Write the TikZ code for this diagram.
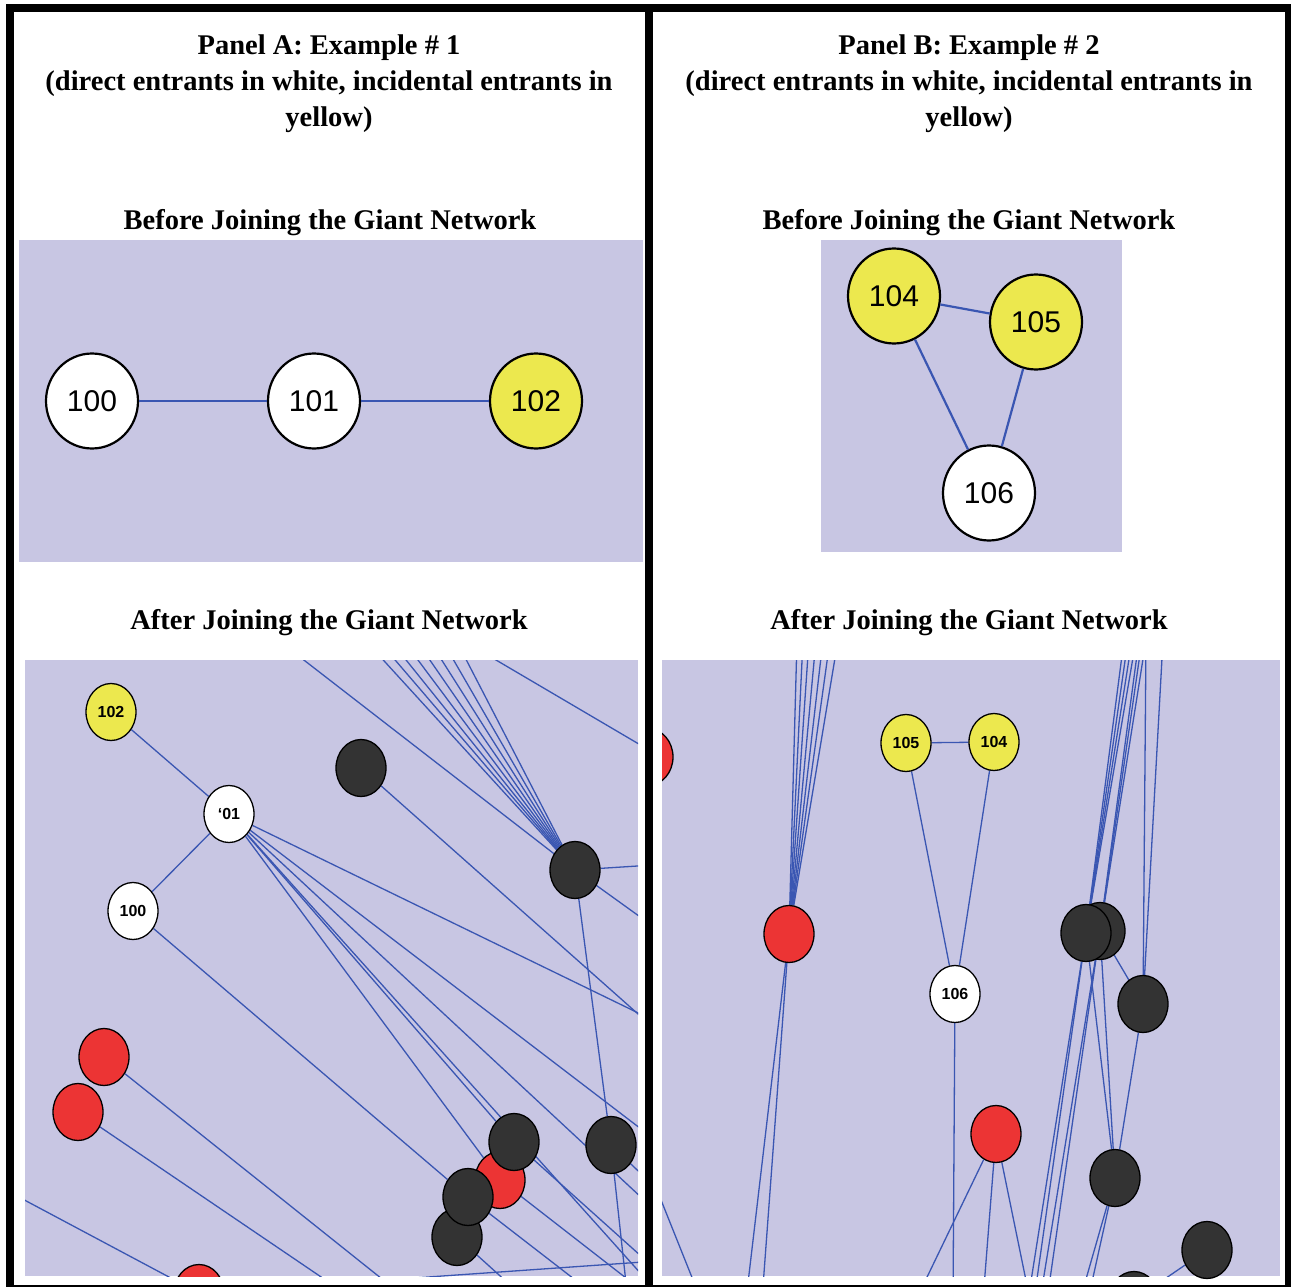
\documentclass[tikz,border=0pt]{standalone}
\usepackage{fontspec}
\setmainfont{Liberation Serif}
\newfontfamily\labelfont{Liberation Sans}
\usepackage{xcolor}
\usetikzlibrary{shapes.geometric, backgrounds}

\definecolor{panelbg}{HTML}{C8C6E3}
\definecolor{linkblue}{HTML}{3A56B2}
\definecolor{entyellow}{HTML}{ECE84E}
\definecolor{entred}{HTML}{EC3434}
\definecolor{firmdark}{HTML}{333333}

\begin{document}
\begin{tikzpicture}[x=1pt, y=-1pt,
    heading/.style={font=\fontsize{28.5}{36}\selectfont\bfseries, align=center},
    bigfirm/.style={ellipse, draw=black, line width=2.2pt, minimum width=92pt, minimum height=95pt, inner sep=0pt, font=\labelfont\fontsize{30}{30}\selectfont},
    firm/.style={ellipse, draw=black, line width=1.3pt, minimum width=50pt, minimum height=57pt, inner sep=0pt, font=\labelfont\fontsize{16}{16}\selectfont\bfseries},
    hub/.style={firm, fill=firmdark},
    link/.style={draw=linkblue, line width=1.3pt},
    biglink/.style={draw=linkblue, line width=2.2pt}]
    \useasboundingbox (0,0) rectangle (1291,1287);
    \begin{scope}[on background layer]
        \fill[white]   (0,0) rectangle (1291,1287);
        \fill[panelbg] (19,240) rectangle (643,562);
        \fill[panelbg] (821,240) rectangle (1122,552);
        \fill[panelbg] (25,660) rectangle (638,1276);
        \fill[panelbg] (662,660) rectangle (1280,1276);
    \end{scope}
    \draw[line width=8pt] (10,8) rectangle (1289,1289);
    \draw[line width=8pt] (649,8) -- (649,1289);

    \node[heading] (tita) at (329,84) {Panel A: Example \# 1\\(direct entrants in white, incidental entrants in\\yellow)};
    \node[heading] (titb) at (969,84) {Panel B: Example \# 2\\(direct entrants in white, incidental entrants in\\yellow)};
    \node[heading] (befa) at (330,223) {Before Joining the Giant Network};
    \node[heading] (befb) at (969,223) {Before Joining the Giant Network};
    \node[heading] (afta) at (329,623) {After Joining the Giant Network};
    \node[heading] (aftb) at (969,623) {After Joining the Giant Network};

    \node[bigfirm, fill=white]     (n100) at (92,401)  {100};
    \node[bigfirm, fill=white]     (n101) at (314,401) {101};
    \node[bigfirm, fill=entyellow] (n102) at (536,401) {102};
    \draw[biglink] (n100) -- (n101) -- (n102);

    \node[bigfirm, fill=entyellow] (n104) at (894,296)  {104};
    \node[bigfirm, fill=entyellow] (n105) at (1036,322) {105};
    \node[bigfirm, fill=white]     (n106) at (989,493)  {106};
    \draw[biglink] (n104) -- (n105) -- (n106) -- (n104);

    \node[firm, fill=entyellow] (m102) at (111,712) {102};
    \node[firm, fill=white]     (m101) at (229,814) {‘01};
    \node[firm, fill=white]     (m100) at (133,911) {100};
    \node[hub] (ka1) at (361,768) {};
    \node[hub] (ka2) at (575,870) {};
    \node[hub] (ka3) at (611,1145) {};
    \node[firm, fill=entred] (ra1) at (104,1057) {};
    \node[firm, fill=entred] (ra2) at (78,1112) {};
    \node[hub] (ka6) at (457,1237) {};
    \node[firm, fill=entred] (ra4) at (500,1180) {};
    \node[hub] (ka5) at (468,1197) {};
    \node[hub] (ka4) at (514,1142) {};
    \begin{scope}
        \clip (25,660) rectangle (638,1276);
        \node[firm, fill=entred] (ra3) at (199,1293) {};
    \end{scope}

    \node[firm, fill=entyellow] (g105) at (906,743) {105};
    \node[firm, fill=entyellow] (g104) at (994,742) {104};
    \node[firm, fill=entred]    (rb1)  at (789,934) {};
    \node[firm, fill=white]     (g106) at (955,994) {106};
    \node[hub] (kb2) at (1100,931) {};
    \node[hub] (kb1) at (1086,933) {};
    \node[hub] (kb3) at (1143,1004) {};
    \node[firm, fill=entred] (rb2) at (996,1134) {};
    \node[hub] (kb4) at (1115,1178) {};
    \node[hub] (kb5) at (1207,1250) {};
    \begin{scope}
        \clip (662,660) rectangle (1280,1276);
        \node[firm, fill=entred] (rb0) at (648,757) {};
        \node[hub] (kb6) at (1134,1300) {};
    \end{scope}

    \coordinate (oa1) at (660,1295);
    \coordinate (oa2) at (700,1252);
    \coordinate (oa3) at (700,1043);
    \coordinate (oa4) at (700,1174);
    \coordinate (oa5) at (462,640);
    \coordinate (oa6) at (700,780);
    \coordinate (oa7) at (700,862);
    \coordinate (oa8) at (700,960);
    \coordinate (oa9) at (630,1320);
    \coordinate (oa10) at (700,1230);
    \coordinate (oa11) at (700,1069);
    \coordinate (oa12) at (471,1350);
    \coordinate (oa13) at (414,1340);
    \coordinate (oa14) at (0,1187);
    \coordinate (oa15) at (700,1258);
    \coordinate (oa16) at (690,1300);
    \coordinate (oa17) at (640,1330);
    \coordinate (oa18) at (560,1330);
    \coordinate (oa19) at (680,1320);

    \begin{scope}[on background layer]
    \begin{scope}
        \clip (25,660) rectangle (638,1276);
        \draw[link] (m102) -- (m101) -- (m100);
        \draw[link] (m100) -- (ka5);
        \foreach \c in {ka4,ra4,oa1,oa2,oa3,oa4}
            \draw[link] (m101) -- (\c);
        \foreach \x [count=\i] in {278,365,378,390,403,416,429,442,456} {
            \coordinate (fa\i) at (\x,640);
            \draw[link] (fa\i) -- (ka2);
        }
        \draw[link] (oa5) -- (oa6);
        \draw[link] (ka2) -- (oa7);
        \draw[link] (ka2) -- (oa8);
        \draw[link] (ka2) -- (ka3) -- (oa9);
        \draw[link] (ka3) -- (oa10);
        \draw[link] (ka1) -- (oa11);
        \draw[link] (ra1) -- (oa12);
        \draw[link] (ra2) -- (oa13);
        \draw[link] (oa14) -- (ra3) -- (oa15);
        \draw[link] (ka4) -- (oa16);
        \draw[link] (ka5) -- (oa17);
        \draw[link] (ka6) -- (oa18);
        \draw[link] (ra4) -- (oa19);
    \end{scope}
    \end{scope}

    \coordinate (ob1) at (746,1300);
    \coordinate (ob2) at (762,1300);
    \coordinate (ob3) at (625,1110);
    \coordinate (ob4) at (701,1300);
    \coordinate (ob5) at (953,1300);
    \coordinate (ob6) at (916,1300);
    \coordinate (ob7) at (983,1300);
    \coordinate (ob8) at (1030,1300);
    \coordinate (ob9) at (1146,640);
    \coordinate (ob10) at (1163,640);
    \coordinate (ob11) at (1028,1300);
    \coordinate (ob12) at (1034,1300);
    \coordinate (ob13) at (1040,1300);
    \coordinate (ob14) at (1047,1300);
    \coordinate (ob15) at (1080,1300);
    \coordinate (ob16) at (1088,1300);

    \begin{scope}[on background layer]
    \begin{scope}
        \clip (662,660) rectangle (1280,1276);
        \draw[link] (g105) -- (g104) -- (g106) -- (g105);
        \foreach \x [count=\i] in {797,803,809,816,823,830,838} {
            \coordinate (fb\i) at (\x,640);
            \draw[link] (fb\i) -- (rb1);
        }
        \draw[link] (rb1) -- (ob1);
        \draw[link] (rb1) -- (ob2);
        \draw[link] (ob3) -- (ob4);
        \draw[link] (g106) -- (ob5);
        \foreach \c in {ob6,ob7,ob8}
            \draw[link] (rb2) -- (\c);
        \foreach \x [count=\i] in {1124,1128,1132,1136} {
            \coordinate (fc\i) at (\x,640);
            \draw[link] (fc\i) -- (kb1);
        }
        \foreach \x [count=\i] in {1139,1142,1146} {
            \coordinate (fd\i) at (\x,640);
            \draw[link] (fd\i) -- (kb2);
        }
        \draw[link] (ob9) -- (kb3);
        \draw[link] (ob10) -- (kb3);
        \draw[link] (kb1) -- (ob11);
        \draw[link] (kb1) -- (ob12);
        \draw[link] (kb2) -- (ob13);
        \draw[link] (kb2) -- (ob14);
        \draw[link] (kb1) -- (kb4);
        \draw[link] (kb2) -- (kb4);
        \draw[link] (kb2) -- (kb3) -- (kb4);
        \draw[link] (kb4) -- (ob15);
        \draw[link] (kb4) -- (ob16);
        \draw[link] (kb5) -- (kb6);
    \end{scope}
    \end{scope}
\end{tikzpicture}
\end{document}
